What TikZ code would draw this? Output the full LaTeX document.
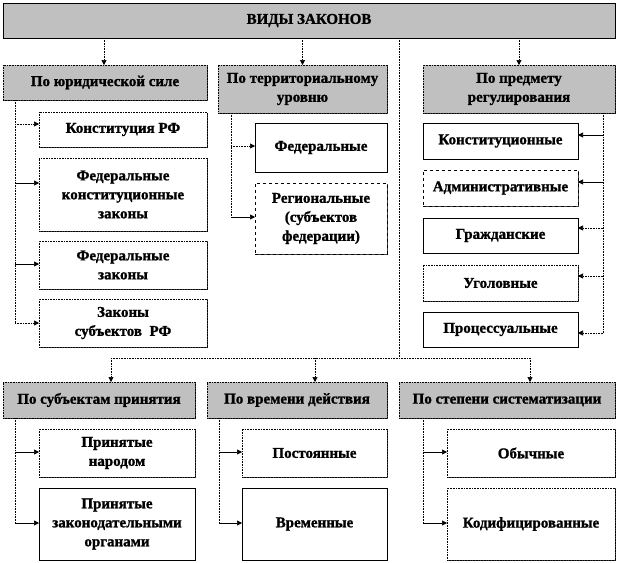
\documentclass[tikz,border=0pt]{standalone}
\usepackage{fontspec}
\setmainfont{Liberation Serif}[BoldFeatures={FakeBold=1.2}]
\usetikzlibrary{arrows.meta,shadows}
\definecolor{hdr}{HTML}{C0C0C0}
\begin{document}
\begin{tikzpicture}[x=1pt,y=-1pt,
  base/.style={inner sep=0pt,outer sep=0pt,anchor=north west,align=center,
    font=\fontsize{15}{19}\selectfont\bfseries,line width=0.6pt,
    drop shadow={shadow xshift=1.2pt,shadow yshift=-1.2pt,fill=black!75,opacity=1}},
  hbox/.style={base,draw,densely dotted,fill=hdr},
  wbox/.style={base,draw,densely dotted,fill=white},
  wsolid/.style={base,draw,solid,fill=white},
  wdash/.style={base,draw,dashed,fill=white},
  dline/.style={densely dotted,line width=0.6pt},
  sline/.style={line width=0.6pt},
  tip/.style={-{Triangle[length=5pt,width=5pt]}},
]
\useasboundingbox (0,0) rectangle (618,562);
% header
\node[hbox,draw=black,solid,minimum width=612pt,minimum height=35pt] (top) at (3,3) {ВИДЫ ЗАКОНОВ};
% categories top row
\node[hbox,minimum width=204pt,minimum height=35pt] (jur) at (3,65) {По юридической силе};
\node[hbox,minimum width=169pt,minimum height=48pt] (ter) at (218,65) {По территориальному\\уровню};
\node[hbox,minimum width=192pt,minimum height=48pt] (pre) at (423,65) {По предмету\\регулирования};
% children of jur
\node[wbox,minimum width=168pt,minimum height=35pt] (j1) at (39,112) {Конституция РФ};
\node[wbox,minimum width=168pt,minimum height=73pt] (j2) at (39,158) {Федеральные\\конституционные\\законы};
\node[wbox,minimum width=168pt,minimum height=48pt] (j3) at (39,241) {Федеральные\\законы};
\node[wbox,minimum width=168pt,minimum height=48pt] (j4) at (39,299) {Законы\\субъектов\ \ РФ};
% children of ter
\node[wsolid,minimum width=132pt,minimum height=49pt] (t1) at (255,123) {Федеральные};
\node[wdash,minimum width=132pt,minimum height=71pt] (t2) at (255,183) {Региональные\\(субъектов\\федерации)};
% children of pre
\node[wsolid,minimum width=155pt,minimum height=36pt] (p1) at (423,123) {Конституционные};
\node[wdash,minimum width=155pt,minimum height=36pt] (p2) at (423,170) {Административные};
\node[wsolid,minimum width=155pt,minimum height=35pt] (p3) at (423,218) {Гражданские};
\node[wbox,minimum width=155pt,minimum height=36pt] (p4) at (423,265) {Уголовные};
\node[wsolid,minimum width=155pt,minimum height=35pt] (p5) at (423,312) {Процессуальные};
% bottom categories
\node[hbox,minimum width=192pt,minimum height=36pt] (sub) at (3,382) {По субъектам принятия};
\node[hbox,minimum width=180pt,minimum height=36pt] (vre) at (207,382) {По времени действия};
\node[hbox,minimum width=216pt,minimum height=36pt] (sis) at (399,382) {По степени систематизации};
% bottom children
\node[wbox,minimum width=156pt,minimum height=48pt] (s1) at (39,429) {Принятые\\народом};
\node[wsolid,minimum width=156pt,minimum height=72pt] (s2) at (39,488) {Принятые\\законодательными\\органами};
\node[wbox,minimum width=145pt,minimum height=48pt] (v1) at (242,429) {Постоянные};
\node[wsolid,minimum width=145pt,minimum height=72pt] (v2) at (242,488) {Временные};
\node[wbox,minimum width=168pt,minimum height=48pt] (k1) at (447,429) {Обычные};
\node[wbox,minimum width=168pt,minimum height=72pt] (k2) at (447,488) {Кодифицированные};

% connectors from header
\draw[dline,tip] (top.south -| jur.north) ++(-1,0) coordinate (a1) -- (a1 |- jur.north);
\draw[dline,tip] (top.south -| ter.north) -- (ter.north);
\draw[dline,tip] (top.south -| pre.north) -- (pre.north);
\coordinate (trunk) at (399,358);
\coordinate (hl) at (111,358);
\coordinate (hr) at (530,358);
\draw[dline] (top.south -| trunk) -- (trunk);
\draw[dline] (hl) -- (hr);
\draw[dline,tip] (hl) -- (sub.north -| hl);
\draw[dline,tip] (315,358) -- (vre.north -| 315,0);
\draw[dline,tip] (hr) -- (sis.north -| hr);

% jur branch
\coordinate (jl) at (15,323);
\draw[dline] (jur.south -| jl) -- (jl);
\draw[dline,tip] (15,124) -- (j1.west |- 0,124);
\draw[sline,tip] (15,183) -- (j2.west |- 0,183);
\draw[sline,tip] (15,264) -- (j3.west |- 0,264);
\draw[dline,tip] (jl) -- (j4.west |- jl);

% ter branch
\coordinate (tl) at (231,217);
\draw[dline] (ter.south -| tl) -- (tl);
\draw[dline,tip] (231,146) -- (t1.west |- 0,146);
\draw[sline,tip] (tl) -- (t2.west |- tl);

% pre branch
\coordinate (pl) at (603,333);
\draw[dline] (pre.south -| pl) -- (pl);
\draw[sline,tip] (603,135) -- (p1.east |- 0,135);
\draw[sline,tip] (603,182) -- (p2.east |- 0,182);
\draw[dline,tip] (603,228) -- (p3.east |- 0,228);
\draw[dline,tip] (603,276) -- (p4.east |- 0,276);
\draw[dline,tip] (pl) -- (p5.east |- pl);

% bottom branches
\draw[dline] (sub.south -| 15,0) -- (15,523);
\draw[sline,tip] (15,452) -- (s1.west |- 0,452);
\draw[sline,tip] (15,523) -- (s2.west |- 0,523);
\draw[dline] (vre.south -| 219,0) -- (219,523);
\draw[sline,tip] (219,452) -- (v1.west |- 0,452);
\draw[sline,tip] (219,523) -- (v2.west |- 0,523);
\draw[dline] (sis.south -| 423,0) -- (423,523);
\draw[sline,tip] (423,452) -- (k1.west |- 0,452);
\draw[sline,tip] (423,523) -- (k2.west |- 0,523);
\end{tikzpicture}
\end{document}
